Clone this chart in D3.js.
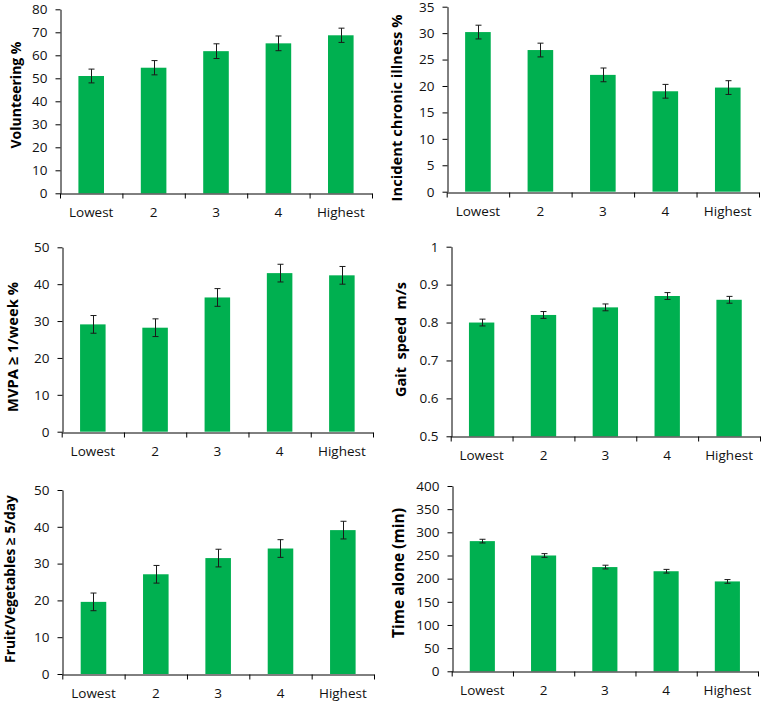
<!DOCTYPE html>
<html>
<head>
<meta charset="utf-8">
<script src="https://cdn.jsdelivr.net/npm/d3@7"></script>
<style>
  html, body { margin: 0; padding: 0; background: #fff; }
  svg { display: block; }
</style>
</head>
<body>
<svg id="chart" width="762" height="703"></svg>
<script>
// ---------- DATA ----------
const categories = ["Lowest", "2", "3", "4", "Highest"];

const volunteering    = [51.0, 54.6, 61.8, 65.2, 68.7];
const volunteeringErr = [3.0, 3.1, 3.2, 3.2, 3.1];
const volunteeringTicks = [0, 10, 20, 30, 40, 50, 60, 70, 80];

const chronicIllness    = [30.2, 26.8, 22.1, 19.0, 19.7];
const chronicIllnessErr = [1.3, 1.3, 1.3, 1.3, 1.3];
const chronicIllnessTicks = [0, 5, 10, 15, 20, 25, 30, 35];

const mvpa    = [29.1, 28.2, 36.4, 43.0, 42.4];
const mvpaErr = [2.4, 2.4, 2.4, 2.4, 2.4];
const mvpaTicks = [0, 10, 20, 30, 40, 50];

const gaitSpeed    = [0.80, 0.82, 0.84, 0.87, 0.86];
const gaitSpeedErr = [0.009, 0.009, 0.009, 0.009, 0.009];
const gaitSpeedTicks = [0.5, 0.6, 0.7, 0.8, 0.9, 1];

const fruitVeg    = [19.6, 27.1, 31.5, 34.1, 39.1];
const fruitVegErr = [2.4, 2.4, 2.4, 2.4, 2.4];
const fruitVegTicks = [0, 10, 20, 30, 40, 50];

const timeAlone    = [281, 250, 225, 216, 194];
const timeAloneErr = [4, 4, 4, 4, 4];
const timeAloneTicks = [0, 50, 100, 150, 200, 250, 300, 350, 400];

const titles = ["Volunteering %", "Incident chronic illness %", "MVPA \u2265 1/week %",
                "Gait  speed  m/s", "Fruit/Vegetables \u2265 5/day", "Time alone (min)"];

// ---------- LAYOUT ----------
const panels = [
  { values: volunteering,   errs: volunteeringErr,   ticks: volunteeringTicks,   title: titles[0],
    box: { l: 60,    r: 372, t: 9.3,   b: 193.3 }, tx: 15,  ty: 95,  tlen: 107, tfs: 16 },
  { values: chronicIllness, errs: chronicIllnessErr, ticks: chronicIllnessTicks, title: titles[1],
    box: { l: 446.7, r: 759, t: 6.7,   b: 191.7 }, tx: 395.5, ty: 108, tlen: 187, tfs: 16 },
  { values: mvpa,           errs: mvpaErr,           ticks: mvpaTicks,           title: titles[2],
    box: { l: 61.7,  r: 373, t: 247.3, b: 431.7 }, tx: 12,  ty: 347, tlen: 130, tfs: 16 },
  { values: gaitSpeed,      errs: gaitSpeedErr,      ticks: gaitSpeedTicks,      title: titles[3],
    box: { l: 450.7, r: 760, t: 246.7, b: 436.3 }, tx: 400, ty: 339.5, tlen: 115, tfs: 16 },
  { values: fruitVeg,       errs: fruitVegErr,       ticks: fruitVegTicks,       title: titles[4],
    box: { l: 62.3,  r: 374, t: 490,   b: 674 },   tx: 9,   ty: 579, tlen: 168, tfs: 14 },
  { values: timeAlone,      errs: timeAloneErr,      ticks: timeAloneTicks,      title: titles[5],
    box: { l: 451.7, r: 758, t: 486,   b: 671.3 }, tx: 398, ty: 573, tlen: 130, tfs: 16 }
];

const GREEN = "#00B050";
const FONT = "'Open Sans', 'Liberation Sans', sans-serif";

const svg = d3.select("#chart");

panels.forEach(p => {
  const b = p.box;
  const g = svg.append("g");

  const y = d3.scaleLinear()
    .domain([p.ticks[0], p.ticks[p.ticks.length - 1]])
    .range([b.b, b.t]);

  const x = d3.scaleBand()
    .domain(categories)
    .range([b.l, b.r])
    .paddingInner(0.59)
    .paddingOuter(0.295);

  const xb = d3.scaleLinear().domain([0, categories.length]).range([b.l, b.r]);

  // bars
  g.selectAll("rect.bar")
    .data(p.values)
    .join("rect")
    .attr("class", "bar")
    .attr("x", (d, i) => x(categories[i]))
    .attr("width", x.bandwidth())
    .attr("y", d => y(d))
    .attr("height", d => y(p.ticks[0]) - y(d))
    .attr("fill", GREEN);

  // error bars
  const eg = g.append("g").attr("stroke", "#1a1a1a").attr("stroke-width", 1).attr("fill", "none");
  p.values.forEach((v, i) => {
    const cx = Math.round(x(categories[i]) + x.bandwidth() / 2) + 0.5;
    const yTop = y(v + p.errs[i]);
    const yBot = y(v - p.errs[i]);
    eg.append("line").attr("x1", cx).attr("x2", cx).attr("y1", yTop).attr("y2", yBot);
    eg.append("line").attr("x1", cx - 3).attr("x2", cx + 3).attr("y1", yTop).attr("y2", yTop);
    eg.append("line").attr("x1", cx - 3).attr("x2", cx + 3).attr("y1", yBot).attr("y2", yBot);
  });

  // y axis
  const yAxis = g.append("g")
    .attr("transform", `translate(${Math.round(b.l) + 0.5},0)`)
    .call(d3.axisLeft(y).tickValues(p.ticks).tickFormat(d => String(d))
      .tickSize(5).tickSizeOuter(0).tickPadding(8));
  yAxis.select(".domain").attr("stroke", "#000");
  yAxis.selectAll(".tick line").attr("stroke", "#000");
  yAxis.selectAll("text").attr("font-family", FONT).attr("font-size", 13.5).attr("fill", "#111");

  // x axis: boundary ticks
  const xAxisTicks = g.append("g")
    .attr("transform", `translate(0,${Math.round(b.b) + 0.5})`)
    .call(d3.axisBottom(xb).tickValues(d3.range(categories.length + 1)).tickFormat("")
      .tickSize(5).tickSizeOuter(0));
  xAxisTicks.select(".domain").attr("stroke", "#000");
  xAxisTicks.selectAll(".tick line").attr("stroke", "#000");

  // x axis: category labels
  const xAxisLabels = g.append("g")
    .attr("transform", `translate(0,${Math.round(b.b) + 0.5})`)
    .call(d3.axisBottom(x).tickSize(0).tickPadding(14));
  xAxisLabels.select(".domain").remove();
  xAxisLabels.selectAll("text").attr("font-family", FONT).attr("font-size", 13.5).attr("fill", "#111");

  // y title: size chosen so natural width is close to the target length
  const t = g.append("text")
    .attr("transform", `translate(${p.tx},${p.ty}) rotate(-90)`)
    .attr("text-anchor", "middle")
    .attr("dominant-baseline", "central")
    .attr("font-family", FONT)
    .attr("font-weight", "bold")
    .attr("font-size", p.tfs)
    .attr("fill", "#000")
    .style("white-space", "pre")
    .text(p.title);
  const natural = t.node().getComputedTextLength();
  const fs = Math.min(p.tfs, p.tfs * p.tlen / natural);
  t.attr("font-size", fs);
  const natural2 = t.node().getComputedTextLength();
  if (natural2 < p.tlen - 1) {
    t.attr("textLength", p.tlen).attr("lengthAdjust", "spacing");
  }
});
</script>
</body>
</html>
